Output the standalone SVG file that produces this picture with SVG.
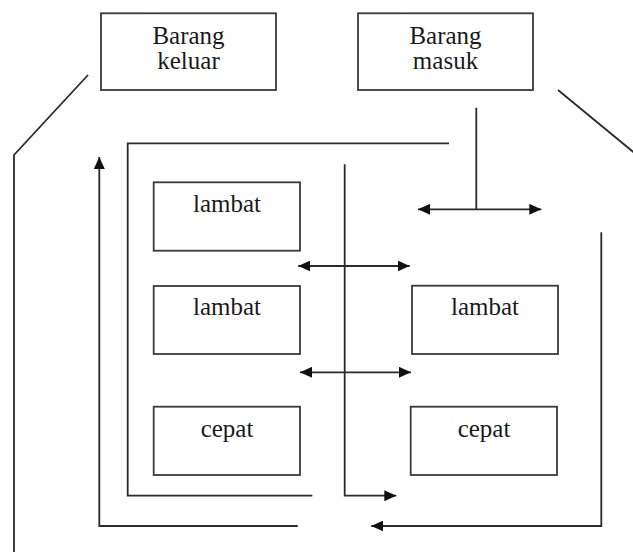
<svg xmlns="http://www.w3.org/2000/svg" width="633" height="552" viewBox="0 0 633 552">
  <style>
    .box { fill: #ffffff; stroke: #3a3a3a; stroke-width: 1.8; }
    .lbl { font-family: "Liberation Serif", "Times New Roman", serif; font-size: 25px; fill: #1a1a1a; text-anchor: middle; }
    .ln { fill: none; stroke: #2a2a2a; stroke-width: 1.8; }
  </style>
  <defs>
    <marker id="ah" markerUnits="userSpaceOnUse" markerWidth="13" markerHeight="11" refX="12" refY="5.5" orient="auto-start-reverse">
      <path d="M0,0 L12,5.5 L0,11 z" fill="#111111"/>
    </marker>
  </defs>
  <rect x="0" y="0" width="633" height="552" fill="#ffffff"/>

  <g id="connectors">
    <polyline class="ln" points="88,75 14,155 14,552"/>
    <line class="ln" x1="558" y1="90" x2="640" y2="157.5"/>
    <polyline class="ln" points="449,143.3 127.7,143.3 127.7,495.7 312.3,495.7"/>
    <polyline class="ln" points="297.7,526 99.3,526 99.3,157" marker-end="url(#ah)"/>
    <polyline class="ln" points="344.7,164.3 344.7,495.7 396.3,495.7" marker-end="url(#ah)"/>
    <line class="ln" x1="476.3" y1="107.7" x2="476.3" y2="209.3"/>
    <line class="ln" x1="418" y1="209.3" x2="541.3" y2="209.3" marker-start="url(#ah)" marker-end="url(#ah)"/>
    <line class="ln" x1="298.3" y1="266" x2="409.7" y2="266" marker-start="url(#ah)" marker-end="url(#ah)"/>
    <line class="ln" x1="300" y1="372.3" x2="411" y2="372.3" marker-start="url(#ah)" marker-end="url(#ah)"/>
    <polyline class="ln" points="601.3,232.3 601.3,526 371.3,526" marker-end="url(#ah)"/>
  </g>

  <g id="barang-keluar">
    <rect class="box" x="101" y="13.3" width="175" height="76.7"/>
    <text class="lbl" x="188.5" y="43.5">Barang</text>
    <text class="lbl" x="188.5" y="68.5">keluar</text>
  </g>
  <g id="barang-masuk">
    <rect class="box" x="358" y="13.3" width="175" height="76.7"/>
    <text class="lbl" x="445.5" y="43.5">Barang</text>
    <text class="lbl" x="445.5" y="68.5">masuk</text>
  </g>
  <g id="lambat-1">
    <rect class="box" x="153.7" y="182.3" width="146.3" height="68.4"/>
    <text class="lbl" x="227" y="212">lambat</text>
  </g>
  <g id="lambat-2">
    <rect class="box" x="153.7" y="286" width="146.3" height="68"/>
    <text class="lbl" x="227" y="315">lambat</text>
  </g>
  <g id="lambat-3">
    <rect class="box" x="412" y="285.7" width="146" height="68.3"/>
    <text class="lbl" x="485" y="315">lambat</text>
  </g>
  <g id="cepat-1">
    <rect class="box" x="153.7" y="406.7" width="146.3" height="68.3"/>
    <text class="lbl" x="227" y="437">cepat</text>
  </g>
  <g id="cepat-2">
    <rect class="box" x="410.7" y="406.7" width="146.3" height="68.3"/>
    <text class="lbl" x="484" y="437">cepat</text>
  </g>
</svg>
